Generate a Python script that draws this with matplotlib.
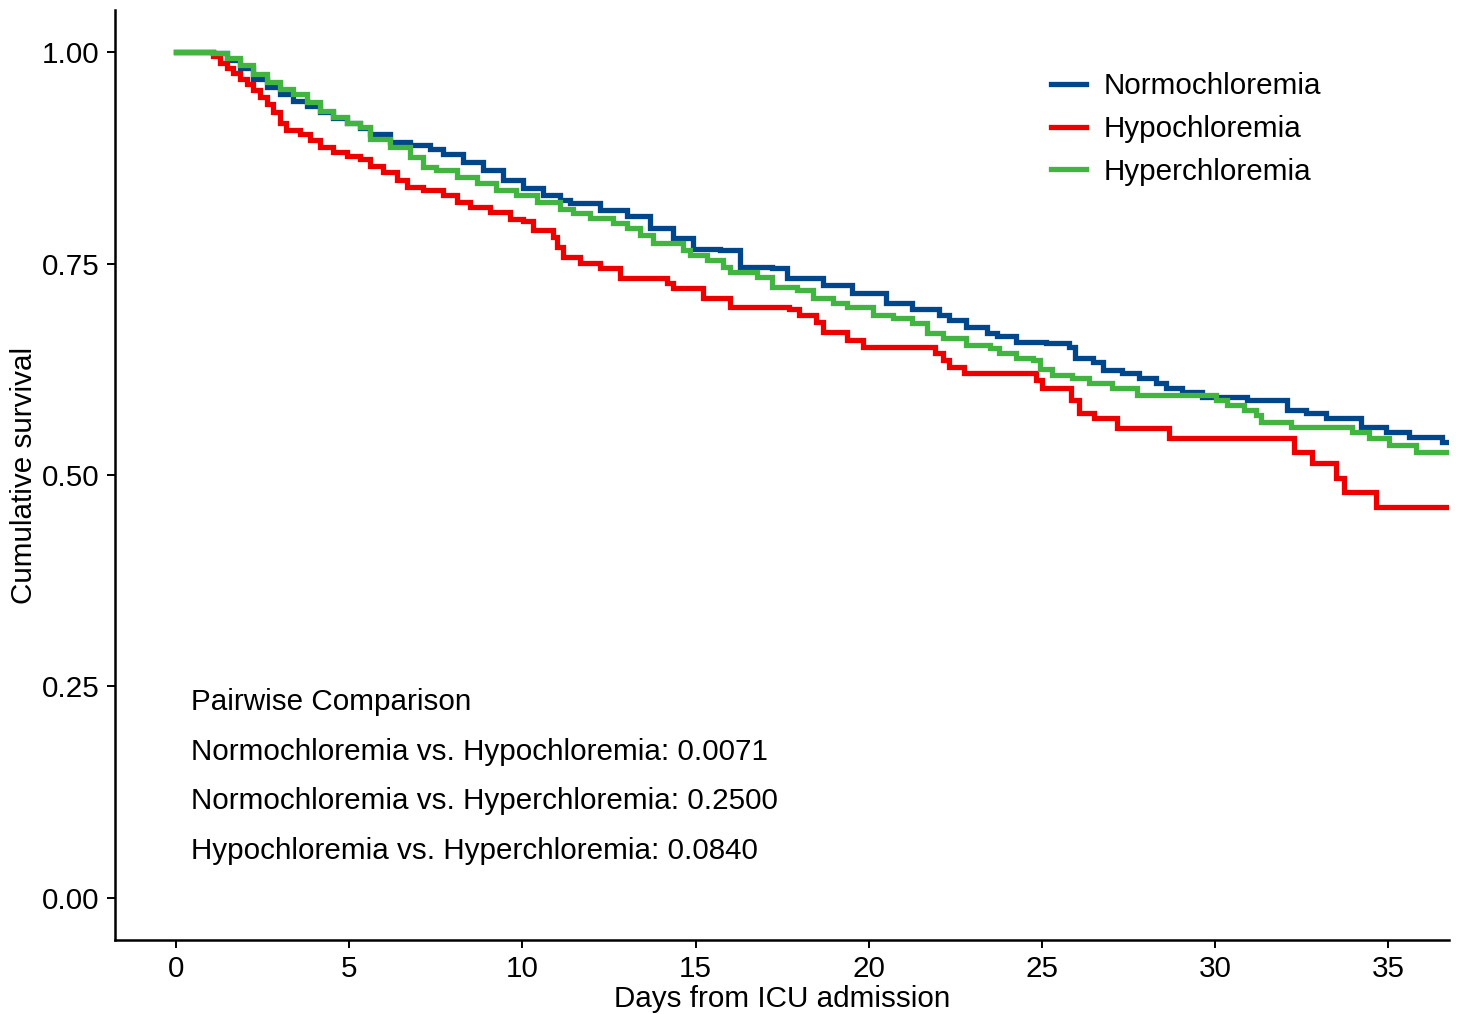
import numpy as np
import matplotlib
matplotlib.use("Agg")
import matplotlib.pyplot as plt

plt.rcParams['font.family'] = ['Liberation Sans', 'DejaVu Sans']

# survival step knots (days, cumulative survival)
normo_t = [0, 1.08, 1.46, 1.85, 2.23, 2.62, 3.00, 3.38, 3.77, 4.15, 4.54, 4.93, 5.31, 5.60,
           6.17, 6.75, 7.33, 7.71, 8.29, 8.87, 9.44, 10.02, 10.60, 11.08, 11.37, 12.23, 13.01,
           13.68, 14.34, 14.92, 15.70, 16.27, 17.22, 17.63, 18.67, 19.53, 20.51, 21.26, 22.04,
           22.33, 22.82, 23.40, 23.69, 24.26, 25.13, 25.79, 25.94, 26.46, 26.75, 27.32, 27.81,
           28.30, 28.59, 29.05, 29.63, 30.93, 32.08, 32.63, 33.21, 34.22, 34.94, 35.60, 36.56]
normo_s = [1.0, 0.999, 0.991, 0.981, 0.969, 0.959, 0.951, 0.943, 0.937, 0.929, 0.922, 0.916, 0.910, 0.904,
           0.894, 0.890, 0.886, 0.880, 0.870, 0.861, 0.849, 0.839, 0.831, 0.825, 0.822, 0.813, 0.807,
           0.792, 0.780, 0.768, 0.766, 0.746, 0.745, 0.733, 0.725, 0.715, 0.703, 0.697, 0.689,
           0.683, 0.675, 0.668, 0.664, 0.657, 0.656, 0.651, 0.639, 0.634, 0.624, 0.621, 0.615,
           0.609, 0.603, 0.598, 0.592, 0.589, 0.577, 0.573, 0.567, 0.557, 0.551, 0.545, 0.539]

hypo_t = [0, 1.08, 1.27, 1.46, 1.65, 1.85, 2.04, 2.23, 2.42, 2.62, 2.81, 3.00, 3.19, 3.58, 3.87,
          4.15, 4.54, 4.93, 5.31, 5.60, 5.98, 6.37, 6.66, 7.14, 7.71, 8.10, 8.48, 9.06, 9.64,
          10.02, 10.31, 10.89, 10.99, 11.17, 11.66, 12.23, 12.81,
          14.17, 14.34, 15.20, 15.98, 17.71, 18.00, 18.49, 18.67, 19.36, 19.82, 21.90, 22.13,
          22.33, 22.76, 24.84, 25.01, 25.85, 26.08, 26.51, 27.18, 28.68, 32.29, 32.80, 33.50,
          33.73, 34.65]
hypo_s = [1.0, 0.996, 0.988, 0.982, 0.976, 0.969, 0.963, 0.955, 0.947, 0.939, 0.929, 0.916, 0.908, 0.904, 0.896,
          0.888, 0.882, 0.878, 0.874, 0.866, 0.858, 0.849, 0.841, 0.837, 0.831, 0.823, 0.817, 0.811, 0.803,
          0.801, 0.790, 0.782, 0.770, 0.758, 0.751, 0.745, 0.733,
          0.727, 0.721, 0.710, 0.699, 0.697, 0.689, 0.681, 0.669, 0.660, 0.651, 0.644, 0.636,
          0.628, 0.621, 0.612, 0.603, 0.589, 0.574, 0.567, 0.556, 0.544, 0.527, 0.514, 0.496,
          0.480, 0.462]

hyper_t = [0, 1.08, 1.46, 1.85, 2.23, 2.62, 3.00, 3.38, 3.77, 4.15, 4.54, 4.93, 5.31, 5.60,
           6.17, 6.75, 7.13, 7.52, 8.10, 8.68, 9.25, 9.83, 10.41, 11.08, 11.45, 11.94, 12.61,
           13.01, 13.39, 13.76, 14.63, 14.83,
           15.32, 15.78, 15.98, 16.76, 17.22, 17.92, 18.38, 18.96, 19.36, 20.11, 20.69, 21.26,
           21.67, 22.13, 22.82, 23.49, 23.77, 24.26, 24.73, 24.93, 25.30, 25.88, 26.37, 27.03,
           27.73, 30.03, 30.35, 30.84, 31.19, 31.33, 32.20, 33.96, 34.45, 35.03, 35.80]
hyper_s = [1.0, 0.999, 0.993, 0.985, 0.975, 0.965, 0.957, 0.951, 0.941, 0.931, 0.923, 0.917, 0.912, 0.898,
           0.888, 0.876, 0.865, 0.861, 0.853, 0.845, 0.837, 0.831, 0.823, 0.815, 0.810, 0.804, 0.798,
           0.792, 0.784, 0.774, 0.766, 0.760,
           0.754, 0.746, 0.740, 0.734, 0.722, 0.719, 0.710, 0.704, 0.699, 0.689, 0.686, 0.680,
           0.668, 0.662, 0.654, 0.650, 0.644, 0.639, 0.636, 0.626, 0.618, 0.615, 0.609, 0.603,
           0.595, 0.589, 0.583, 0.577, 0.571, 0.563, 0.557, 0.551, 0.544, 0.535, 0.527]

end_day = 37.0

groups = ['Normochloremia', 'Hypochloremia', 'Hyperchloremia']
colors = ['#00468B', '#ED0000', '#42B540']

pairs = ['Normochloremia vs. Hypochloremia', 'Normochloremia vs. Hyperchloremia',
         'Hypochloremia vs. Hyperchloremia']
p_values = [0.0071, 0.2500, 0.0840]

fs = 21.3

fig = plt.figure(figsize=(14.58, 10.14), dpi=100)
ax = fig.add_axes([0.0789, 0.073, 0.9149, 0.917])

curves = [(normo_t, normo_s), (hypo_t, hypo_s), (hyper_t, hyper_s)]
for (t, s), name, c in zip(curves, groups, colors):
    t = list(t) + [end_day]
    s = list(s) + [s[-1]]
    ax.step(t, s, where='post', color=c, lw=3.8, label=name, solid_joinstyle='miter')

ax.set_xlim(-1.76, 36.75)
ax.set_ylim(-0.05, 1.05)
ax.set_xticks(np.arange(0, 36, 5))
ax.set_yticks([0, 0.25, 0.5, 0.75, 1.0])
ax.set_yticklabels(['0.00', '0.25', '0.50', '0.75', '1.00'])
ax.tick_params(labelsize=fs, length=6, width=1.4, pad=5, colors='black')

for sp in ['top', 'right']:
    ax.spines[sp].set_visible(False)
for sp in ['left', 'bottom']:
    ax.spines[sp].set_linewidth(1.8)

ax.set_xlabel('Days from ICU admission', fontsize=fs, labelpad=1)
ax.set_ylabel('Cumulative survival', fontsize=fs)
ax.yaxis.set_label_coords(-0.058, 0.5)

leg = ax.legend(loc='upper left', bbox_to_anchor=(0.682, 0.962), frameon=False, fontsize=fs,
                handlelength=1.18, handletextpad=0.6, labelspacing=0.5)

ax.text(0.43, 0.2317, 'Pairwise Comparison', fontsize=fs, va='center', ha='left')
ys = [0.1726, 0.1147, 0.0556]
for lbl, p, y in zip(pairs, p_values, ys):
    ax.text(0.43, y, '%s: %.4f' % (lbl, p), fontsize=fs, va='center', ha='left')

fig.savefig('out.png', dpi=100)
